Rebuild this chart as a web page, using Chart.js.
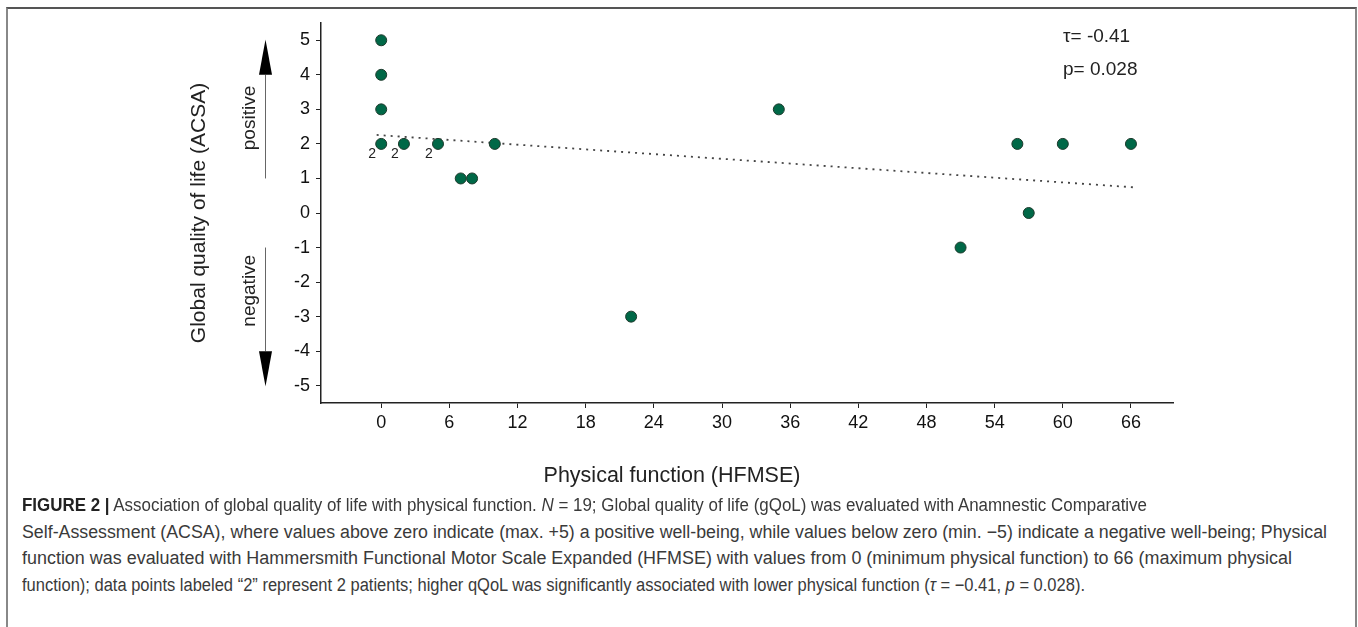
<!DOCTYPE html>
<html><head><meta charset="utf-8">
<script src="https://cdn.jsdelivr.net/npm/chart.js@4.4.0/dist/chart.umd.min.js"></script>
<style>
html,body{margin:0;padding:0;background:#fff;width:1358px;height:627px;overflow:hidden;}
#frame{position:absolute;left:6px;top:7px;width:1351px;height:700px;border-top:2px solid #555;border-left:2px solid #888;border-right:2px solid #888;box-sizing:border-box;}
#c{position:absolute;left:0;top:0;}
.cap{position:absolute;left:22px;white-space:nowrap;font-family:"Liberation Sans",Arial,sans-serif;font-size:18px;line-height:18px;color:#3a3a3a;transform-origin:0 0;}
.cap b{color:#222;}
</style></head>
<body>
<div id="frame"></div>
<canvas id="c" width="1358" height="500"></canvas>
<div class="cap" data-w="1125" style="top:496px"><b>FIGURE 2 |</b> Association of global quality of life with physical function. <i>N</i> = 19; Global quality of life (gQoL) was evaluated with Anamnestic Comparative</div>
<div class="cap" data-w="1305" style="top:522.5px">Self-Assessment (ACSA), where values above zero indicate (max. +5) a positive well-being, while values below zero (min. −5) indicate a negative well-being; Physical</div>
<div class="cap" data-w="1270" style="top:549px">function was evaluated with Hammersmith Functional Motor Scale Expanded (HFMSE) with values from 0 (minimum physical function) to 66 (maximum physical</div>
<div class="cap" data-w="1063" style="top:575.5px">function); data points labeled “2” represent 2 patients; higher qQoL was significantly associated with lower physical function (<i>τ</i> = −0.41, <i>p</i> = 0.028).</div>
<script>
const xTicks=[0,6,12,18,24,30,36,42,48,54,60,66];
const yTicks=[-5,-4,-3,-2,-1,0,1,2,3,4,5];
const hfmse=[0,0,0,0,2,5,7,8,10,22,35,51,56,57,60,66];
const acsa=[5,4,3,2,2,2,1,1,2,-3,3,-1,2,0,2,2];
const patientsPerPoint=[1,1,1,2,2,2,1,1,1,1,1,1,1,1,1,1];
const trendX=[-0.4,66.4];
const trendY=[2.26,0.74];
const statLines=["τ= -0.41","p= 0.028"];

document.querySelectorAll('.cap').forEach(el=>{
  const w=el.getBoundingClientRect().width;
  el.style.transform='scaleX('+(parseFloat(el.dataset.w)/w)+')';
});

const FONT='"Liberation Sans", Arial, sans-serif';
Chart.defaults.font.family=FONT;

const decor={id:'decor',afterDraw(chart){
  const {ctx,scales:{x,y},chartArea:ca}=chart;
  ctx.save();
  ctx.fillStyle='#222';
  ctx.font='14px '+FONT; ctx.textAlign='center'; ctx.textBaseline='middle';
  hfmse.forEach((v,i)=>{ if(patientsPerPoint[i]>1) ctx.fillText(String(patientsPerPoint[i]), x.getPixelForValue(v)-9, y.getPixelForValue(acsa[i])+10); });
  // arrows
  const ax=265.5, hw=6.5;
  ctx.strokeStyle='#666'; ctx.lineWidth=1;
  ctx.beginPath(); ctx.moveTo(ax,y.getPixelForValue(1)); ctx.lineTo(ax,y.getPixelForValue(4)); ctx.stroke();
  ctx.beginPath(); ctx.moveTo(ax,y.getPixelForValue(-1)); ctx.lineTo(ax,y.getPixelForValue(-4)); ctx.stroke();
  ctx.fillStyle='#000';
  ctx.beginPath(); ctx.moveTo(ax,y.getPixelForValue(5)-0.7); ctx.lineTo(ax-hw,y.getPixelForValue(4)); ctx.lineTo(ax+hw,y.getPixelForValue(4)); ctx.closePath(); ctx.fill();
  ctx.beginPath(); ctx.moveTo(ax,y.getPixelForValue(-5)+0.7); ctx.lineTo(ax-hw,y.getPixelForValue(-4)); ctx.lineTo(ax+hw,y.getPixelForValue(-4)); ctx.closePath(); ctx.fill();
  // rotated texts
  const rot=(t,bx,cy,font)=>{ctx.save();ctx.translate(bx,cy);ctx.rotate(-Math.PI/2);ctx.font=font;ctx.textAlign='center';ctx.textBaseline='alphabetic';ctx.fillText(t,0,0);ctx.restore();};
  ctx.fillStyle='#222';
  rot('positive',254.5,y.getPixelForValue(2.75),'19px '+FONT);
  rot('negative',254.5,y.getPixelForValue(-2.25),'19px '+FONT);
  rot('Global quality of life (ACSA)',205,(ca.top+ca.bottom)/2,'21px '+FONT);
  // x title
  ctx.font='21.5px '+FONT; ctx.textAlign='center'; ctx.textBaseline='alphabetic';
  ctx.fillText('Physical function (HFMSE)',672,481.5);
  // stats
  ctx.font='19px '+FONT; ctx.textAlign='left';
  ctx.fillText(statLines[0],1063,42);
  ctx.fillText(statLines[1],1063,75);
  ctx.restore();
}};

new Chart(document.getElementById('c'),{
  type:'scatter',
  data:{datasets:[
    {data:hfmse.map((v,i)=>({x:v,y:acsa[i]})),pointRadius:5.5,pointBackgroundColor:'#006847',pointBorderColor:'#1c3a2c',pointBorderWidth:1,showLine:false},
    {data:trendX.map((v,i)=>({x:v,y:trendY[i]})),showLine:true,pointRadius:0,borderColor:'#444',borderWidth:1.8,borderDash:[2,5],fill:false}
  ]},
  options:{
    responsive:false,animation:false,
    layout:{padding:{top:23,right:185,left:0,bottom:0}},
    plugins:{legend:{display:false},tooltip:{enabled:false}},
    scales:{
      x:{type:'linear',min:-5.3,max:69.7,
        afterBuildTicks:s=>{s.ticks=xTicks.map(v=>({value:v}));},
        afterFit:s=>{s.height=97;},
        grid:{drawOnChartArea:false,drawTicks:true,tickLength:5,color:'#222',lineWidth:1},
        border:{display:true,color:'#222',width:1.5},
        ticks:{font:{size:18},color:'#111',padding:4,maxRotation:0,autoSkip:false}},
      y:{type:'linear',min:-5.5,max:5.5,
        afterBuildTicks:s=>{s.ticks=yTicks.map(v=>({value:v}));},
        afterFit:s=>{s.width=321;},
        grid:{drawOnChartArea:false,drawTicks:true,tickLength:5,color:'#222',lineWidth:1},
        border:{display:true,color:'#222',width:1.5},
        ticks:{font:{size:18},color:'#111',padding:6,autoSkip:false}}
    }
  },
  plugins:[decor]
});
</script>
</body></html>
